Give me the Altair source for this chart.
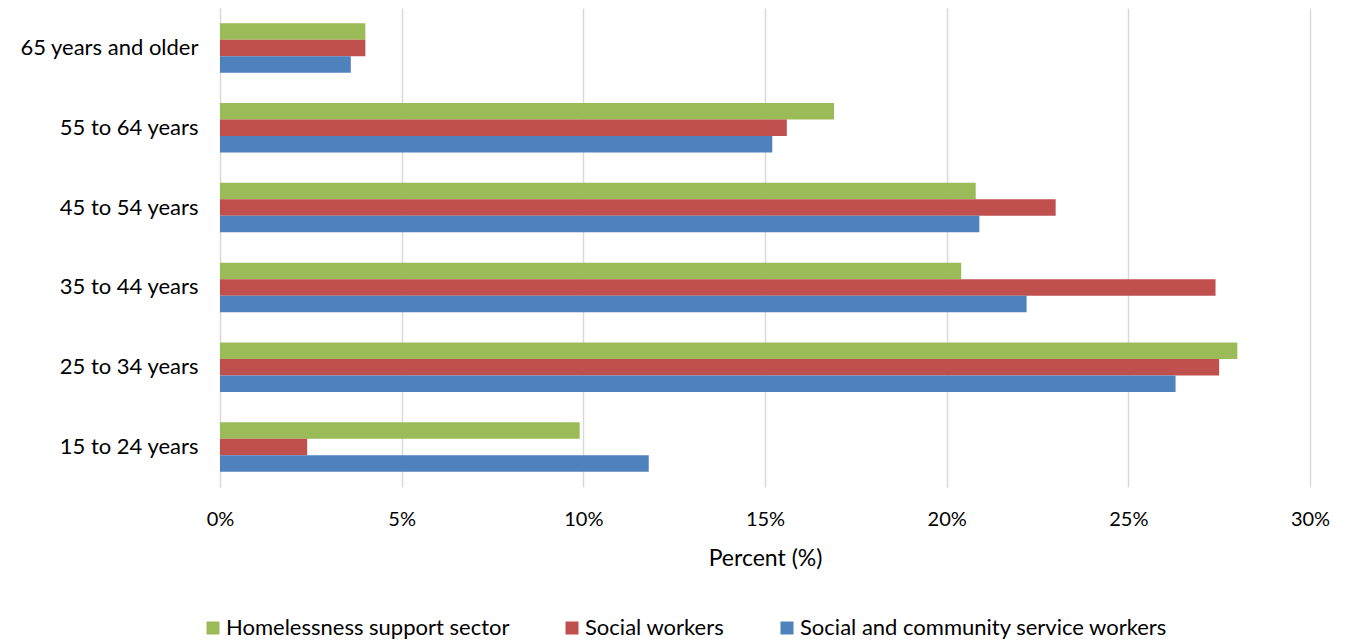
import altair as alt
import pandas as pd

categories = ["65 years and older", "55 to 64 years", "45 to 54 years",
              "35 to 44 years", "25 to 34 years", "15 to 24 years"]
series = ["Homelessness support sector", "Social workers",
          "Social and community service workers"]
homelessness = [4.0, 16.9, 20.8, 20.4, 28.0, 9.9]
social_workers = [4.0, 15.6, 23.0, 27.4, 27.5, 2.4]
community = [3.6, 15.2, 20.9, 22.2, 26.3, 11.8]
colors = ["#9BBB59", "#C0504D", "#4F81BD"]

rows = []
for s, vals in zip(series, [homelessness, social_workers, community]):
    for c, v in zip(categories, vals):
        rows.append({"age": c, "series": s, "value": v / 100})
df = pd.DataFrame(rows)

font = "Lato"

chart = alt.Chart(df).mark_bar().encode(
    y=alt.Y("age:N", sort=categories, title=None,
            scale=alt.Scale(paddingInner=0.38, paddingOuter=0.19),
            axis=alt.Axis(ticks=False, domain=False, labelFontSize=22,
                          labelFont=font, labelColor="#000000",
                          labelPadding=22, labelLimit=0)),
    yOffset=alt.YOffset("series:N", sort=series),
    x=alt.X("value:Q", title="Percent (%)",
            scale=alt.Scale(domain=[0, 0.30], nice=False),
            axis=alt.Axis(format="%", values=[0, 0.05, 0.10, 0.15, 0.20, 0.25, 0.30],
                          grid=True, gridColor="#D9D9D9", gridWidth=1.5,
                          domain=False, ticks=False, labelFlush=False,
                          labelFontSize=20, labelFont=font, labelColor="#000000",
                          labelPadding=22, titleFontSize=23, titleFont=font,
                          titleFontWeight="normal", titleColor="#000000",
                          titlePadding=18)),
    color=alt.Color("series:N", sort=series,
                    scale=alt.Scale(domain=series, range=colors),
                    legend=alt.Legend(title=None, orient="none", direction="horizontal",
                                      legendX=-18, legendY=609,
                                      symbolType="square", symbolSize=169,
                                      symbolStrokeWidth=0, symbolOpacity=1,
                                      labelFontSize=22, labelFont=font, labelLimit=0,
                                      labelColor="#000000", columnPadding=51,
                                      labelOffset=2)),
).properties(
    width=1090, height=479,
    padding={"left": 220, "top": 8, "right": 48, "bottom": 154},
    autosize="none",
).configure_view(stroke=None)

chart.save("out.html", embed_options={"renderer": "svg", "actions": False})
